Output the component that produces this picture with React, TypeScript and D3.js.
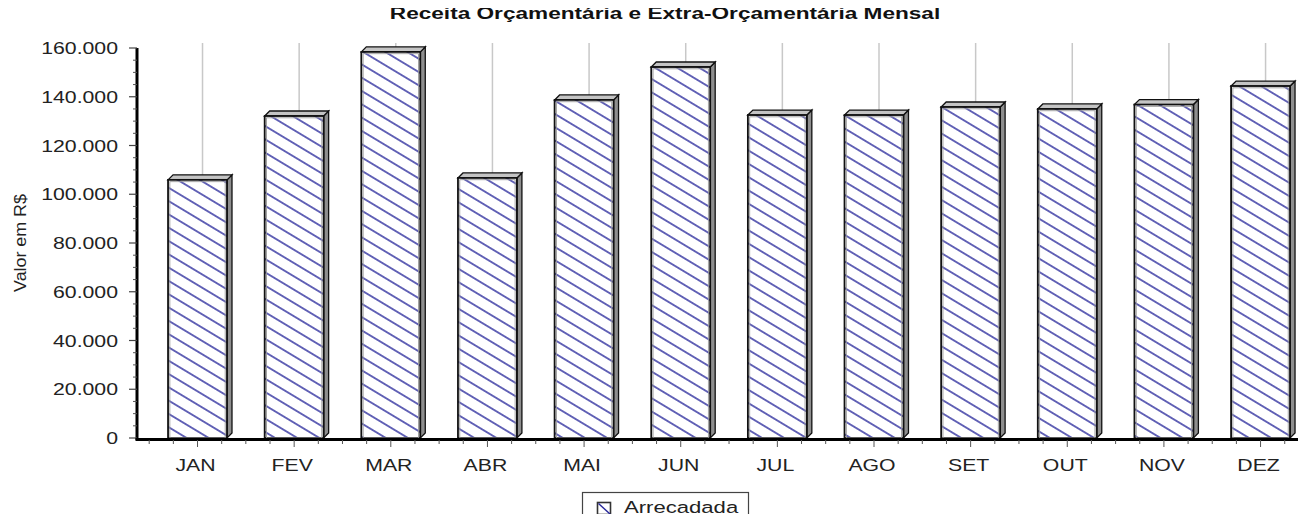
import React, { useEffect, useRef } from 'react';
import * as d3 from 'd3';

// Monthly values (R$)
const months = ["JAN", "FEV", "MAR", "ABR", "MAI", "JUN", "JUL", "AGO", "SET", "OUT", "NOV", "DEZ"];
const arrecadada = [105900, 132100, 158400, 106700, 138700, 152200, 132500, 132500, 135800, 135000, 136800, 144400];
const yTicks = [0, 20000, 40000, 60000, 80000, 100000, 120000, 140000, 160000];

const chartTitle = "Receita Orçamentária e Extra-Orçamentária Mensal";
const yLabel = "Valor em R$";
const seriesName = "Arrecadada";

const FONT = "'Liberation Sans', Arial, Helvetica, sans-serif";

const BarChart3D: React.FC<{ width?: number; height?: number }> = ({ width = 1306, height = 522 }) => {
  const svgRef = useRef<SVGSVGElement>(null);

  useEffect(() => {
    if (!svgRef.current) return;
    const svg = d3.select(svgRef.current);
    svg.selectAll("*").remove();

    const axisX = 137;
    const depth = 5;
    const sx = 1.25; // text in the reference is stretched horizontally

    const ptBR = d3.formatLocale({ decimal: ",", thousands: ".", grouping: [3], currency: ["R$", ""] });
    const fmt = ptBR.format(",d");

    const x = d3.scaleBand<string>()
      .domain(months)
      .range([149.2, 149.2 + months.length * 96.64])
      .padding(0);

    const y = d3.scaleLinear()
      .domain([0, 160000])
      .range([438, 48]);

    const barW = x.bandwidth() * 0.61;

    // Hatch pattern
    const defs = svg.append("defs");
    const pat = defs.append("pattern")
      .attr("id", "hatch")
      .attr("patternUnits", "userSpaceOnUse")
      .attr("width", 11.4)
      .attr("height", 11.4)
      .attr("patternTransform", "rotate(31)");
    pat.append("rect").attr("width", 11.4).attr("height", 11.4).attr("fill", "#fff");
    pat.append("line")
      .attr("x1", 0).attr("y1", 5.7).attr("x2", 11.4).attr("y2", 5.7)
      .attr("stroke", "#26269a").attr("stroke-width", 1.4);

    // Title
    svg.append("text")
      .attr("transform", `translate(665,19) scale(1.33,1)`)
      .attr("text-anchor", "middle")
      .style("font-family", FONT)
      .style("font-size", "17px")
      .style("font-weight", "bold")
      .style("fill", "#111")
      .text(chartTitle);

    // Vertical gridlines on the back plane
    svg.append("g").selectAll("line")
      .data(months)
      .enter()
      .append("line")
      .attr("x1", d => (x(d) || 0) + x.bandwidth() / 2 + depth)
      .attr("x2", d => (x(d) || 0) + x.bandwidth() / 2 + depth)
      .attr("y1", y(160000) - depth)
      .attr("y2", y(0) - depth)
      .attr("stroke", "#c8c8c8")
      .attr("stroke-width", 1.5);

    // Bars
    const bars = svg.append("g").selectAll("g")
      .data(months.map((m, i) => ({ m, v: arrecadada[i] })))
      .enter()
      .append("g");

    const left = (d: { m: string }) => (x(d.m) || 0) + (x.bandwidth() - barW) / 2;

    // right side face
    bars.append("path")
      .attr("d", d => {
        const x0 = left(d) + barW, yt = y(d.v), yb = y(0);
        return `M${x0},${yt} L${x0 + depth},${yt - depth} L${x0 + depth},${yb - depth} L${x0},${yb} Z`;
      })
      .attr("fill", "#8e8e8e")
      .attr("stroke", "#111")
      .attr("stroke-width", 1.3);

    // top face
    bars.append("path")
      .attr("d", d => {
        const x0 = left(d), yt = y(d.v);
        return `M${x0},${yt} L${x0 + depth},${yt - depth} L${x0 + barW + depth},${yt - depth} L${x0 + barW},${yt} Z`;
      })
      .attr("fill", "#c4c4c4")
      .attr("stroke", "#111")
      .attr("stroke-width", 1.3);

    // front face
    bars.append("rect")
      .attr("x", d => left(d))
      .attr("y", d => y(d.v))
      .attr("width", barW)
      .attr("height", d => y(0) - y(d.v))
      .attr("fill", "url(#hatch)")
      .attr("stroke", "#111")
      .attr("stroke-width", 1.8);
    bars.append("rect")
      .attr("x", d => left(d) + 1.8)
      .attr("y", d => y(d.v) + 1.8)
      .attr("width", barW - 3.6)
      .attr("height", d => y(0) - y(d.v) - 1.8)
      .attr("fill", "none")
      .attr("stroke", "#999")
      .attr("stroke-width", 0.9);

    // Y axis
    const yAxis = svg.append("g");
    yAxis.append("line")
      .attr("x1", axisX).attr("x2", axisX)
      .attr("y1", y(160000)).attr("y2", y(0) + 2)
      .attr("stroke", "#000").attr("stroke-width", 3);
    const minor = d3.range(0, 160001, 5000).filter(v => v % 20000 !== 0);
    yAxis.selectAll(".minor")
      .data(minor)
      .enter()
      .append("line")
      .attr("x1", axisX - 4).attr("x2", axisX)
      .attr("y1", d => y(d)).attr("y2", d => y(d))
      .attr("stroke", "#555").attr("stroke-width", 1);
    yAxis.selectAll(".major")
      .data(yTicks)
      .enter()
      .append("line")
      .attr("x1", axisX - 8).attr("x2", axisX)
      .attr("y1", d => y(d)).attr("y2", d => y(d))
      .attr("stroke", "#444").attr("stroke-width", 1.2);
    yAxis.selectAll("text")
      .data(yTicks)
      .enter()
      .append("text")
      .attr("transform", d => `translate(118,${y(d) + 6}) scale(${sx},1)`)
      .attr("text-anchor", "end")
      .style("font-family", FONT)
      .style("font-size", "17px")
      .style("fill", "#222")
      .text(d => fmt(d));

    svg.append("text")
      .attr("transform", `translate(26,243) rotate(-90) scale(1.05,1)`)
      .attr("text-anchor", "middle")
      .style("font-family", FONT)
      .style("font-size", "17px")
      .style("fill", "#222")
      .text(yLabel);

    // X axis
    const xAxis = svg.append("g");
    xAxis.append("line")
      .attr("x1", axisX - 1.5).attr("x2", 1306)
      .attr("y1", 439.5).attr("y2", 439.5)
      .attr("stroke", "#000").attr("stroke-width", 2.8);
    const quarterTicks = months.flatMap(m => [0, 1, 2, 3].map(k => ({ m, k })));
    xAxis.selectAll(".xt")
      .data(quarterTicks)
      .enter()
      .append("line")
      .attr("x1", d => (x(d.m) || 0) + d.k * x.bandwidth() / 4)
      .attr("x2", d => (x(d.m) || 0) + d.k * x.bandwidth() / 4)
      .attr("y1", 440)
      .attr("y2", d => (d.k === 2 ? 447 : 444))
      .attr("stroke", "#555").attr("stroke-width", 1);
    xAxis.selectAll("text")
      .data(months)
      .enter()
      .append("text")
      .attr("transform", d => `translate(${(x(d) || 0) + x.bandwidth() / 2 - 2},471) scale(${sx},1)`)
      .attr("text-anchor", "middle")
      .style("font-family", FONT)
      .style("font-size", "17px")
      .style("fill", "#222")
      .text(d => d);

    // Legend
    const lg = svg.append("g");
    lg.append("rect")
      .attr("x", 582.5).attr("y", 492.5).attr("width", 166).attr("height", 28)
      .attr("fill", "#fff").attr("stroke", "#444").attr("stroke-width", 1.2);
    lg.append("rect")
      .attr("x", 597.5).attr("y", 502.5).attr("width", 13).attr("height", 12)
      .attr("fill", "#fff").attr("stroke", "#333").attr("stroke-width", 1.6);
    lg.append("line")
      .attr("x1", 598.5).attr("y1", 503.5).attr("x2", 610).attr("y2", 514)
      .attr("stroke", "#26269a").attr("stroke-width", 1.4);
    lg.append("text")
      .attr("transform", `translate(624,513) scale(1.3,1)`)
      .style("font-family", FONT)
      .style("font-size", "17px")
      .style("fill", "#222")
      .text(seriesName);
  }, [width, height]);

  return <svg ref={svgRef} width={width} height={height} style={{ display: "block", background: "#fff" }} />;
};

export default function App() {
  return (
    <div style={{ margin: -8 }}>
      <BarChart3D />
    </div>
  );
}
